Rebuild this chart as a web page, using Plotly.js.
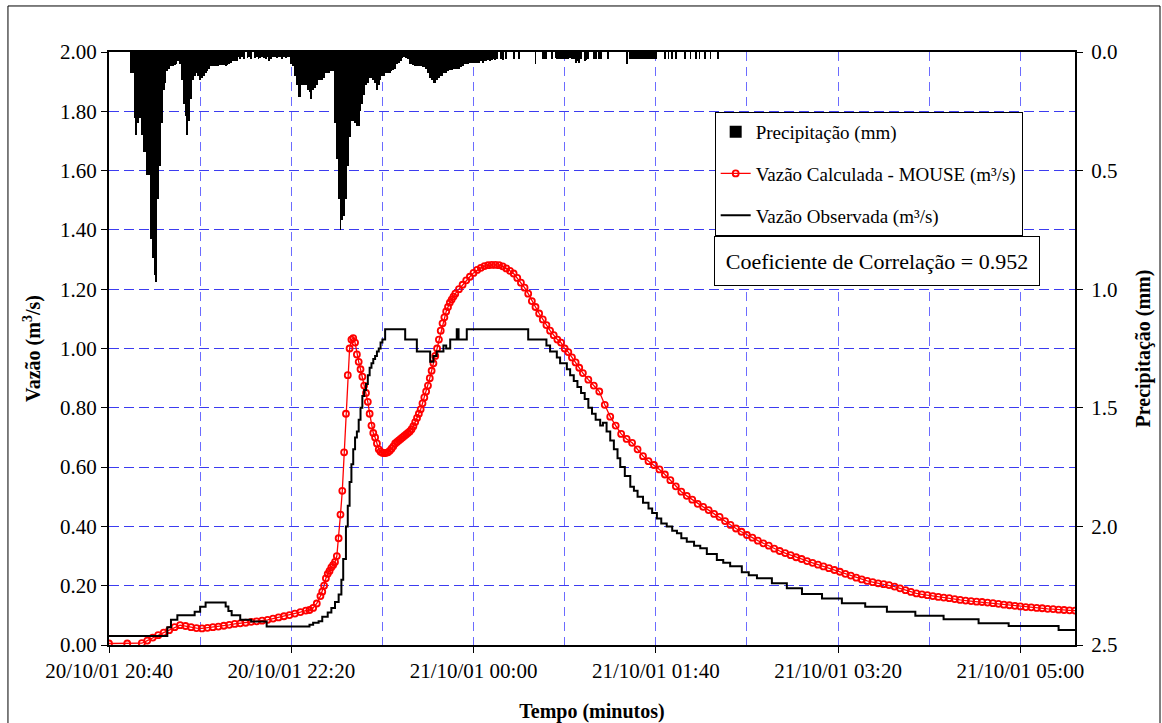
<!DOCTYPE html>
<html>
<head>
<meta charset="utf-8">
<script src="https://cdn.plot.ly/plotly-3.0.1.min.js"></script>
<style>html,body{margin:0;padding:0;background:#fff;}#chart{width:1162px;height:723px;}</style>
</head>
<body>
<div id="chart"></div>
<script>
// ---- Data (times in minutes after 20/10/01 20:40) ----
const startTime = "2001-10-20 20:40";
const precipFirstMinute = 12;           // first 1-minute precipitation bar
const precipMm = [
  0.09,0.09,0.28,0.35,0.30,0.28,0.35,0.42,0.42,0.52,
  0.52,0.79,0.87,0.94,0.97,0.62,0.48,0.30,0.16,0.13,
  0.08,0.07,0.06,0.06,0.055,0.05,0.04,0.05,0.12,0.22,
  0.27,0.35,0.29,0.20,0.12,0.10,0.09,0.10,0.12,0.11,
  0.10,0.09,0.08,0.07,0.06,0.06,0.06,0.06,0.06,0.055,
  0.055,0.055,0.06,0.055,0.05,0.045,0.04,0.04,0.04,0.02,
  0.03,0.02,0.03,0,0.025,0.02,0.03,0,0.025,0.02,
  0.03,0.025,0.02,0.025,0.03,0.02,0.04,0.03,0.02,0.02,
  0.025,0.02,0.02,0.03,0.02,0.025,0.02,0.02,0.05,0.06,
  0.10,0.14,0.19,0.19,0.14,0.14,0.14,0.16,0.17,0.20,
  0.16,0.15,0.14,0.12,0.12,0.12,0.11,0.09,0.09,0.09,
  0.08,0.08,0.30,0.45,0.62,0.75,0.71,0.69,0.62,0.48,
  0.36,0.29,0.29,0.30,0.31,0.31,0.25,0.22,0.18,0.14,
  0.13,0.11,0.11,0.12,0.13,0.16,0.14,0.12,0.10,0.10,
  0.09,0.09,0.09,0.08,0.075,0.07,0.05,0.045,0.04,0.025,
  0.02,0.025,0.03,0.05,0.05,0.055,0.06,0.06,0.06,0.06,
  0.065,0.065,0.07,0.09,0.11,0.12,0.13,0.13,0.12,0.11,
  0.10,0.10,0.09,0.09,0.08,0.075,0.075,0.07,0.07,0.07,
  0.07,0.065,0.06,0.05,0.05,0.05,0.045,0.045,0.045,0.045,
  0.045,0.045,0.04,0.045,0.04,0.04,0.035,0.04,0.035,0.03,
  0.035,0.03,0,0.03,0.035,0,0.03,0,0,0,
  0.03,0,0,0.03,0,0,0,0,0,0,
  0,0,0.05,0,0,0,0.03,0.03,0.03,0,
  0,0.03,0,0.025,0.03,0.03,0.03,0.03,0.03,0.03,
  0.03,0.025,0.03,0.03,0.045,0.04,0.045,0.03,0,0.04,
  0.035,0.03,0,0,0.03,0.03,0,0.03,0.03,0,
  0,0,0.03,0,0,0,0,0,0,0,
  0,0,0.05,0,0.03,0.03,0.03,0.03,0.03,0.03,
  0.03,0.03,0.03,0.03,0.03,0.03,0.03,0.03,0.03,0,
  0,0,0,0.03,0,0.03,0,0.03,0,0.03,
  0,0,0,0,0.03,0,0,0.03,0,0,
  0.03,0,0.03,0,0,0.03,0,0,0.03,0,
  0,0,0.03
];

const calcT = [0,10,18,21,24,27,30,33,36,39,42,45,48,51,54,57,60,63,66,69,72,75,78,81,84,87,90,93,96,99,102,105,108,110,112,114,116,117,118,119,120,121,122,123,124,125,126,127,128,129,130,131,132,133,134,135,136,137,138,139,140,141,142,143,144,145,146,147,148,149,150,151,152,153,154,155,156,157,158,159,160,161,162,163,164,165,166,167,168,169,170,171,172,173,174,175,176,177,178,179,180,181,182,183,184,185,186,187,188,189,190,192,194,196,198,200,202,204,206,208,210,212,214,216,218,220,222,224,226,228,230,232,234,236,238,240,242,244,246,248,250,252,254,256,258,260,263,266,269,272,275,278,281,284,287,290,293,296,299,302,305,308,311,314,317,320,323,326,329,332,335,338,341,344,347,350,353,356,359,362,365,368,371,374,377,380,383,386,389,392,395,398,401,404,407,410,413,416,419,422,425,428,431,434,437,440,443,446,449,452,455,458,461,464,467,470,473,476,479,482,485,488,491,494,497,500,503,506,509,512,515,518,521,524,527,530];
const calcQ = [0.005,0.005,0.006,0.015,0.025,0.033,0.042,0.05,0.06,0.067,0.064,0.06,0.057,0.056,0.058,0.06,0.062,0.065,0.068,0.071,0.073,0.075,0.078,0.08,0.082,0.085,0.089,0.093,0.097,0.101,0.106,0.111,0.116,0.118,0.125,0.14,0.165,0.18,0.2,0.225,0.24,0.25,0.262,0.27,0.28,0.30,0.36,0.44,0.52,0.65,0.78,0.91,1.00,1.03,1.035,1.02,0.98,0.955,0.93,0.905,0.875,0.85,0.82,0.78,0.74,0.715,0.70,0.68,0.66,0.652,0.648,0.647,0.648,0.65,0.655,0.662,0.67,0.68,0.685,0.69,0.695,0.70,0.705,0.71,0.715,0.72,0.728,0.738,0.752,0.766,0.78,0.795,0.815,0.835,0.855,0.875,0.90,0.925,0.95,0.975,1.0,1.03,1.06,1.085,1.105,1.125,1.14,1.155,1.165,1.175,1.185,1.20,1.215,1.23,1.242,1.255,1.265,1.272,1.278,1.281,1.282,1.282,1.281,1.277,1.27,1.262,1.253,1.238,1.222,1.205,1.185,1.16,1.14,1.118,1.098,1.079,1.06,1.045,1.03,1.02,1.0,0.988,0.97,0.953,0.935,0.917,0.895,0.875,0.855,0.81,0.77,0.74,0.712,0.695,0.682,0.66,0.637,0.62,0.607,0.592,0.575,0.556,0.535,0.517,0.503,0.49,0.476,0.466,0.455,0.442,0.432,0.418,0.405,0.393,0.382,0.371,0.362,0.352,0.343,0.335,0.325,0.317,0.31,0.303,0.296,0.29,0.283,0.277,0.271,0.265,0.259,0.253,0.247,0.24,0.234,0.227,0.221,0.216,0.212,0.208,0.205,0.202,0.197,0.191,0.185,0.179,0.174,0.171,0.168,0.165,0.162,0.16,0.158,0.155,0.152,0.15,0.148,0.146,0.145,0.143,0.141,0.139,0.136,0.134,0.132,0.13,0.128,0.127,0.125,0.124,0.122,0.121,0.119,0.118,0.117,0.116];

const obsT = [0,32,34,37.5,47,50,53,64,65.5,67.3,72,78,86.5,110,112,115,117,120,122,124,126,127.5,128.5,130,131,132,133,134,135,136,137,138,139,140,141,142,143,144,145,146,147,148,149,150,151.5,162.5,168.9,176.2,178,179.8,183.5,185,187.2,190.8,191.8,196.3,230,240,242,245.7,247.5,251.2,253,255,257,259,261,263,265,267,269.5,271,273,275,277,279,280.5,283,286,288,290,293,296,298,300.6,303,306,309,311.6,314,317,321,324.4,328,333.5,337,340.8,347.2,351,355.5,363.7,371.9,380.2,391.2,402.1,414.9,426.8,442.4,457.9,477.1,493.6,521,530];
const obsQ = [0.03,0.06,0.085,0.10,0.112,0.129,0.143,0.13,0.115,0.10,0.085,0.079,0.062,0.068,0.075,0.08,0.095,0.11,0.125,0.145,0.17,0.22,0.29,0.40,0.47,0.55,0.61,0.66,0.70,0.72,0.76,0.80,0.84,0.86,0.88,0.91,0.935,0.95,0.965,0.975,0.99,1.0,1.02,1.03,1.065,1.03,0.99,0.955,0.975,0.99,1.01,1.0,1.03,1.065,1.03,1.065,1.03,1.01,0.99,0.97,0.95,0.93,0.91,0.89,0.87,0.85,0.83,0.80,0.78,0.76,0.74,0.75,0.72,0.69,0.66,0.63,0.60,0.57,0.534,0.52,0.50,0.48,0.46,0.445,0.427,0.41,0.40,0.385,0.377,0.36,0.348,0.335,0.326,0.307,0.287,0.277,0.266,0.245,0.235,0.225,0.208,0.191,0.172,0.157,0.141,0.129,0.112,0.099,0.087,0.073,0.064,0.051,0.051];

const xTickFormat = "%d/%m/%y %H:%M";
const corrText = "Coeficiente de Correlação = 0.952";

// ---- helpers ----
const baseMs = Date.UTC(2001, 9, 20, 20, 40, 0);
function toDate(min) {
  const iso = new Date(baseMs + Math.round(min * 60000)).toISOString();
  return iso.slice(0, 19).replace('T', ' ');
}
const precipX = precipMm.map((_, i) => toDate(precipFirstMinute + i));
const FONT = "Liberation Serif";

const traces = [
  {
    type: 'bar', name: 'Precipitação (mm)', legendgroup: 'p',
    x: precipX, y: precipMm, yaxis: 'y2',
    marker: {color: '#000000', line: {width: 0}}
  },
  {
    type: 'scatter', mode: 'lines+markers', name: 'Vazão Calculada - MOUSE (m³/s)', legendgroup: 'c',
    x: calcT.map(toDate), y: calcQ,
    line: {color: '#ff0000', width: 1.3},
    marker: {symbol: 'circle-open', size: 6, color: '#ff0000', line: {width: 1.8, color: '#ff0000'}}
  },
  {
    type: 'scatter', mode: 'lines', name: 'Vazão Observada (m³/s)', legendgroup: 'o',
    x: obsT.map(toDate), y: obsQ,
    line: {color: '#000000', width: 2, shape: 'hv'}
  }
];

const layout = {
  width: 1162, height: 723,
  margin: {l: 109, r: 87, t: 52, b: 78, pad: 0},
  paper_bgcolor: '#ffffff', plot_bgcolor: '#ffffff',
  font: {family: FONT, size: 21, color: '#000'},
  showlegend: true,
  bargap: 0,
  xaxis: {
    type: 'date',
    range: [toDate(0), toDate(530)],
    tick0: startTime, dtick: 6000000,
    tickformat: xTickFormat,
    ticks: 'outside', ticklen: 6, tickwidth: 1, tickcolor: '#000',
    showline: true, linecolor: '#000', linewidth: 2, mirror: true,
    showgrid: true, gridcolor: '#6b6bff', gridwidth: 1, griddash: '9px,6px',
    minor: {tick0: startTime, dtick: 3000000, showgrid: true, gridcolor: '#6b6bff', gridwidth: 1, griddash: '9px,6px', ticks: ''},
    tickfont: {family: FONT, size: 21},
    title: {text: 'Tempo (minutos)', font: {family: FONT, size: 20, weight: 'bold'}, standoff: 28},
    zeroline: false
  },
  yaxis: {
    range: [0, 2], dtick: 0.2, tick0: 0, tickformat: '.2f',
    ticks: 'outside', ticklen: 6, tickcolor: '#000',
    showline: true, linecolor: '#000', linewidth: 2,
    showgrid: true, gridcolor: '#3c3cf0', gridwidth: 1, griddash: '10px,5px',
    zeroline: false,
    tickfont: {family: FONT, size: 21},
    title: {text: 'Vazão (m<sup>3</sup>/s)', font: {family: FONT, size: 20, weight: 'bold'}, standoff: 14}
  },
  yaxis2: {
    overlaying: 'y', side: 'right',
    range: [2.5, 0], dtick: 0.5, tick0: 0, tickformat: '.1f',
    ticks: 'outside', ticklen: 6, tickcolor: '#000',
    ticklabelstandoff: 4,
    showline: true, linecolor: '#000', linewidth: 2,
    showgrid: false, zeroline: false,
    tickfont: {family: FONT, size: 21},
    title: {text: 'Precipitação (mm)', font: {family: FONT, size: 20, weight: 'bold'}, standoff: 20}
  },
  legend: {
    x: 0.627, y: 0.899, xanchor: 'left', yanchor: 'top',
    bgcolor: '#ffffff', bordercolor: '#000', borderwidth: 1,
    font: {family: FONT, size: 19},
    tracegroupgap: 14, itemwidth: 30
  },
  annotations: [{
    text: corrText, xref: 'paper', yref: 'paper', x: 0.7955, y: 0.6476,
    xanchor: 'center', yanchor: 'middle', showarrow: false,
    font: {family: FONT, size: 22, color: '#000'},
    bordercolor: '#000', borderwidth: 1, bgcolor: '#ffffff',
    width: 312, height: 36, borderpad: 6
  }],
  shapes: [{
    type: 'rect', xref: 'paper', yref: 'paper',
    x0: -0.1046, x1: 1.088, y0: -0.14, y1: 1.0776,
    line: {color: '#000', width: 1}, fillcolor: 'rgba(0,0,0,0)', layer: 'below'
  }]
};

Plotly.newPlot('chart', traces, layout, {displayModeBar: false, staticPlot: true});
</script>
</body>
</html>
